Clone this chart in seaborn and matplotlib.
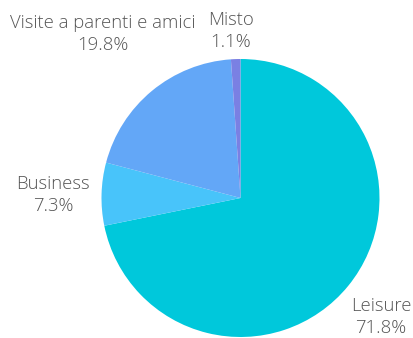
import matplotlib
matplotlib.use("Agg")
import matplotlib.pyplot as plt
import seaborn as sns

sns.set_theme(style="white")
plt.rcParams["font.family"] = ["Open Sans", "DejaVu Sans"]

categories = ["Leisure", "Business", "Visite a parenti e amici", "Misto"]
shares = [71.8, 7.3, 19.8, 1.1]
colors = ["#00C8DB", "#48C4FA", "#63A7F7", "#7A80E3"]

W, H = 413, 338
fig = plt.figure(figsize=(W / 100, H / 100), dpi=100)
ax = fig.add_axes([0, 0, 1, 1])

cx, cy, r = 240.5, H - 198, 139
ax.pie(shares, colors=colors, startangle=90, counterclock=False,
       center=(cx, cy), radius=r, frame=True,
       wedgeprops=dict(linewidth=0))
ax.set_xlim(0, W)
ax.set_ylim(0, H)
ax.set_aspect("equal")
ax.axis("off")

# label positions (pixel space, y measured from top)
label_pos = {
    "Leisure": (381, 317),
    "Business": (53, 195),
    "Visite a parenti e amici": (103, 34),
    "Misto": (231, 31),
}
for name, val in zip(categories, shares):
    x, y = label_pos[name]
    ax.text(x, H - y, f"{name}\n{val}%", ha="center", va="center",
            fontsize=13.3, color="#555555", linespacing=1.34,
            fontweight="light")

fig.savefig("out.png", dpi=100, facecolor="white")
